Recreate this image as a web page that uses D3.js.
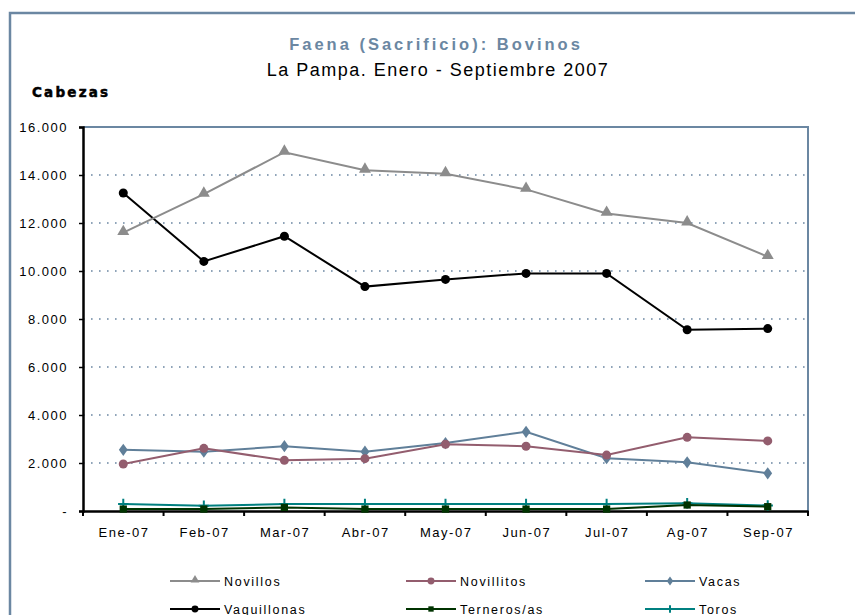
<!DOCTYPE html>
<html>
<head>
<meta charset="utf-8">
<script src="https://cdn.jsdelivr.net/npm/d3@7/dist/d3.min.js"></script>
<style>
  body { margin: 0; background: #fff; }
  svg { display: block; font-family: "Liberation Sans", Arial, sans-serif; }
</style>
</head>
<body>
<svg id="chart" width="855" height="615"></svg>
<script>
// data
const months = ['Ene-07', 'Feb-07', 'Mar-07', 'Abr-07', 'May-07', 'Jun-07', 'Jul-07', 'Ag-07', 'Sep-07'];
const novillos    = [11600, 13200, 14950, 14200, 14050, 13400, 12400, 12000, 10600];
const novillitos  = [1960, 2610, 2110, 2180, 2780, 2700, 2330, 3070, 2920];
const vacas       = [2550, 2470, 2700, 2470, 2830, 3300, 2200, 2030, 1570];
const vaquillonas = [13250, 10400, 11450, 9350, 9650, 9900, 9900, 7550, 7600];
const terneros    = [80, 80, 150, 80, 80, 80, 80, 250, 180];
const toros       = [290, 220, 290, 290, 290, 290, 290, 320, 230];
const yTicks = [0, 2000, 4000, 6000, 8000, 10000, 12000, 14000, 16000];

const series = [
  { name: 'Novillos',    values: novillos,    color: '#8c8c8c', marker: 'triangle' },
  { name: 'Novillitos',  values: novillitos,  color: '#935d6e', marker: 'circle' },
  { name: 'Vacas',       values: vacas,       color: '#607f99', marker: 'diamond' },
  { name: 'Vaquillonas', values: vaquillonas, color: '#000000', marker: 'circle' },
  { name: 'Terneros/as', values: terneros,    color: '#003300', marker: 'square' },
  { name: 'Toros',       values: toros,       color: '#008080', marker: 'plus' }
];

const svg = d3.select('#chart');
const frame = '#6b87a2';
const m = { left: 83, top: 127, right: 808, bottom: 511 };

// outer chart border (runs off the page right and bottom)
svg.append('rect')
  .attr('x', 10).attr('y', 13).attr('width', 900).attr('height', 700)
  .attr('fill', 'none').attr('stroke', frame).attr('stroke-width', 2.5);

// titles
svg.append('text')
  .attr('x', 436).attr('y', 50).attr('text-anchor', 'middle')
  .attr('fill', '#6b87a2').attr('font-weight', 'bold').attr('font-size', 16.5)
  .attr('letter-spacing', 3).text('Faena (Sacrificio):  Bovinos');
svg.append('text')
  .attr('x', 438).attr('y', 76).attr('text-anchor', 'middle')
  .attr('fill', '#000').attr('font-size', 18).attr('letter-spacing', 1.5)
  .text('La Pampa. Enero - Septiembre 2007');
svg.append('text')
  .attr('x', 32).attr('y', 97)
  .attr('font-family', '"DejaVu Sans", sans-serif')
  .attr('font-weight', 'bold').attr('font-size', 13.5).attr('letter-spacing', 2.2)
  .attr('stroke', '#000').attr('stroke-width', 0.5)
  .text('Cabezas');

const x = d3.scaleBand().domain(months).range([m.left, m.right]);
const y = d3.scaleLinear().domain([0, 16000]).range([m.bottom, m.top]);
const fmt = v => v === 0 ? '-' : d3.format(',')(v).replace(/,/g, '.');

// dotted gridlines
svg.append('g')
  .selectAll('line')
  .data(yTicks.filter(d => d > 0 && d < 16000))
  .join('line')
  .attr('x1', m.left).attr('x2', m.right)
  .attr('y1', d => y(d)).attr('y2', d => y(d))
  .attr('stroke', '#6b87a2').attr('stroke-width', 1.6)
  .attr('stroke-dasharray', '1.6,6.4');

// plot area top + right border
svg.append('path')
  .attr('d', `M${m.left},${y(16000)}H${m.right}V${m.bottom}`)
  .attr('fill', 'none').attr('stroke', frame).attr('stroke-width', 2);

// axes
const yAxis = svg.append('g')
  .attr('transform', `translate(${m.left},0)`)
  .call(d3.axisLeft(y).tickValues(yTicks).tickFormat(fmt).tickSize(4).tickPadding(11));
const xAxis = svg.append('g')
  .attr('transform', `translate(0,${m.bottom})`)
  .call(d3.axisBottom(x).tickSize(0).tickPadding(17));

[yAxis, xAxis].forEach(g => {
  g.select('.domain').attr('stroke', '#000').attr('stroke-width', 2.5);
  g.selectAll('text').attr('font-size', 13).attr('fill', '#000').attr('letter-spacing', 1.5)
    .attr('font-family', '"Liberation Sans", Arial, sans-serif');
  g.selectAll('.tick line').attr('stroke', '#000').attr('stroke-width', 1.5);
});
xAxis.selectAll('.tick text').attr('dy', '0.71em').attr('dx', 0.7);

// category boundary ticks on x axis
xAxis.append('g')
  .selectAll('line')
  .data(months.map(d => x(d)).concat([m.right]))
  .join('line')
  .attr('x1', d => d).attr('x2', d => d).attr('y1', 0).attr('y2', 5)
  .attr('stroke', '#000').attr('stroke-width', 2);

function drawMarker(g, type, color, size) {
  if (type === 'triangle') {
    g.append('path').attr('d', d3.symbol(d3.symbolTriangle, size * 1.3)()).attr('fill', color)
      .attr('transform', 'translate(0,-1)');
  } else if (type === 'circle') {
    g.append('circle').attr('r', Math.sqrt(size / Math.PI) + 0.6).attr('fill', color);
  } else if (type === 'diamond') {
    g.append('path').attr('d', d3.symbol(d3.symbolDiamond, size * 0.9)()).attr('fill', color)
      .attr('transform', 'scale(1.25,1)');
  } else if (type === 'square') {
    g.append('path').attr('d', d3.symbol(d3.symbolSquare, size * 1.1)()).attr('fill', color);
  } else if (type === 'plus') {
    const s = Math.sqrt(size) * 0.75;
    g.append('path').attr('d', `M${-s},0H${s}M0,${-s}V${s}`).attr('stroke', color).attr('stroke-width', 2);
  }
}

const line = d3.line()
  .x((d, i) => x(months[i]) + x.bandwidth() / 2)
  .y(d => y(d));

// draw in reverse so Novillos ends up over the low series like the reference
const drawOrder = [series[5], series[4], series[2], series[1], series[3], series[0]];
drawOrder.forEach(s => {
  const g = svg.append('g');
  g.append('path')
    .datum(s.values)
    .attr('d', line)
    .attr('fill', 'none')
    .attr('stroke', s.color)
    .attr('stroke-width', 2);
  g.selectAll('g.pt')
    .data(s.values)
    .join('g')
    .attr('class', 'pt')
    .attr('transform', (d, i) => `translate(${x(months[i]) + x.bandwidth() / 2},${y(d)})`)
    .each(function() { drawMarker(d3.select(this), s.marker, s.color, 48); });
});

// legend
const legX = [170, 406, 645];
const legY = [581, 609];
const legend = svg.append('g');
series.forEach((s, i) => {
  const lx = legX[i % 3], ly = legY[Math.floor(i / 3)];
  const g = legend.append('g').attr('transform', `translate(${lx},${ly})`);
  g.append('line').attr('x1', 0).attr('x2', 50).attr('stroke', s.color).attr('stroke-width', 2.2);
  const mk = g.append('g').attr('transform', 'translate(25,0)');
  drawMarker(mk, s.marker, s.color, 26);
  g.append('text').attr('x', 54).attr('y', 4.5)
    .attr('font-size', 12.5).attr('letter-spacing', 1.7).attr('fill', '#000').text(s.name);
});
</script>
</body>
</html>
